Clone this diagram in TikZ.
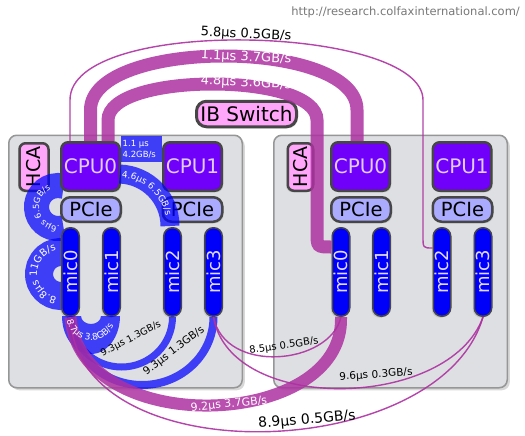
\documentclass[tikz,border=0pt]{standalone}
\usepackage{fontspec}
\setmainfont{DejaVu Sans}
\usetikzlibrary{decorations.text,shadows}
\definecolor{boxgray}{RGB}{221,223,226}
\definecolor{boxedge}{RGB}{150,150,150}
\definecolor{nodeedge}{RGB}{70,70,70}
\definecolor{hcapink}{RGB}{255,165,250}
\definecolor{cpupurple}{RGB}{112,0,250}
\definecolor{cputext}{RGB}{222,205,255}
\definecolor{pcieblue}{RGB}{170,170,255}
\definecolor{micblue}{RGB}{0,0,250}
\definecolor{mictext}{RGB}{225,220,255}
\definecolor{linkpurple}{RGB}{173,49,161}
\definecolor{urlgray}{RGB}{120,120,120}
\tikzset{
 fsz/.style={font=\fontsize{#1}{#1}\selectfont},
 lbl/.style={inner sep=0pt, fsz=#1},
 chassis/.style={draw=boxedge, line width=1.5pt, fill=boxgray, rounded corners=8pt, inner sep=0pt,
   drop shadow={shadow xshift=2.5pt, shadow yshift=-2.5pt, opacity=0.3}},
 unit/.style={draw=nodeedge, line width=2.5pt, inner sep=0pt,
   drop shadow={shadow xshift=1.5pt, shadow yshift=-1.5pt, opacity=0.25}},
 runit/.style={draw=nodeedge, line width=2.5pt, inner sep=0pt, rotate=90,
   drop shadow={shadow xshift=-1.5pt, shadow yshift=-1.5pt, opacity=0.25}},
 hcabox/.style={runit, fill=hcapink, rounded corners=6pt, minimum width=47.5pt, minimum height=#1, fsz=19},
 cpubox/.style={unit, fill=cpupurple, text=cputext, rounded corners=7pt, minimum width=58.5pt, minimum height=48.5pt, fsz=20},
 pciebox/.style={unit, fill=pcieblue, rounded corners=9pt, minimum width=59.5pt, minimum height=24.5pt, fsz=19.5},
 micbox/.style={runit, line width=1.5pt, fill=micblue, text=mictext, rounded corners=8.5pt, minimum width=88.5pt, minimum height=17.5pt, fsz=18},
 bluelink/.style={draw=blue, draw opacity=0.72},
 bluefill/.style={fill=blue, fill opacity=0.72},
 plink/.style={draw=linkpurple, draw opacity=0.85},
 thinlink/.style={draw=linkpurple, draw opacity=0.9, line width=1.4pt},
}
\begin{document}
\begin{tikzpicture}[x=1pt,y=1pt]
\useasboundingbox (0,0) rectangle (525,-436);
\fill[white] (0,0) rectangle (525,-436);

\node[anchor=east, text=urlgray, lbl=11.5] (url) at (520,-12) {http://research.colfaxinternational.com/};

% chassis
\node[chassis, minimum width=233.5pt, minimum height=252.5pt] (nodeL) at (125.5,-261.5) {};
\node[chassis, minimum width=233.5pt, minimum height=252.5pt] (nodeR) at (390.5,-261.5) {};

% HCAs
\node[hcabox=29pt] (hcaL) at (34,-167) {HCA};
\node[hcabox=25.5pt] (hcaR) at (300.5,-167) {HCA};

% left rings (behind CPU/PCIe/mic)
\draw[bluelink, line width=25pt] (58,-207) ++(-75:21.5) arc[start angle=-75, end angle=-285, radius=21.5];
\path[decorate, decoration={text along path, text color=white,
  text={|\fontsize{8.5}{8.5}\selectfont|.6µs 6.5GB/s}}]
  (58,-207) ++(-85:19) arc[start angle=-85, end angle=-290, radius=19];
\draw[bluelink, line width=28pt] (61,-274) ++(-80:22) arc[start angle=-80, end angle=-280, radius=22];
\path[decorate, decoration={text along path, text color=white,
  text={|\fontsize{10}{10}\selectfont|8.8µs 11GB/s}}]
  (61,-274) ++(-100:24) arc[start angle=-100, end angle=-280, radius=24];

% CPUs, PCIe, mics
\node[cpubox] (cpu0L) at (90.5,-166.5) {CPU0};
\node[cpubox] (cpu1L) at (192.5,-166.5) {CPU1};
\node[cpubox] (cpu0R) at (360.5,-166.5) {CPU0};
\node[cpubox] (cpu1R) at (462,-166.5) {CPU1};
\node[pciebox] (pcieL0) at (91,-209.5) {PCIe};
\node[pciebox] (pcieL1) at (192.5,-209.5) {PCIe};
\node[pciebox] (pcieR0) at (361,-209.5) {PCIe};
\node[pciebox] (pcieR1) at (462.5,-209.5) {PCIe};
\node[micbox] (mic0L) at (70.5,-272) {mic0};
\node[micbox] (mic1L) at (111.5,-272) {mic1};
\node[micbox] (mic2L) at (172.5,-272) {mic2};
\node[micbox] (mic3L) at (213.5,-272) {mic3};
\node[micbox] (mic0R) at (341,-272) {mic0};
\node[micbox] (mic1R) at (381.5,-272) {mic1};
\node[micbox] (mic2R) at (442,-272) {mic2};
\node[micbox] (mic3R) at (483,-272) {mic3};
\node[unit, line width=3pt, fill=hcapink, rounded corners=10pt, minimum width=100pt, minimum height=25.5pt, fsz=20] (ib) at (246.5,-114) {IB Switch};

% blue intra-node links
\path[bluefill] (cpu0L.east |- 0,-136) rectangle (cpu1L.west |- 0,-162);
\node[anchor=west, inner sep=0pt, text=white, align=left, font=\fontsize{8.5}{10.5}\selectfont] (qpi) at (122.5,-149.5) {1.1 µs\\4.2GB/s};

\draw[bluelink, line width=19pt] (118,-226) ++(88:52) arc[start angle=88, end angle=0, radius=52];
\path[decorate, decoration={text along path, text color=white,
  text={|\fontsize{9}{9}\selectfont|4.6µs 6.5GB/s}, text align={left indent=2pt}}]
  (118,-226) ++(88:48.7) arc[start angle=88, end angle=0, radius=48.7];

\fill[bluefill] (62,-316) arc[start angle=180, end angle=360, x radius=29, y radius=38]
  -- (101,-316) arc[start angle=0, end angle=-180, x radius=10, y radius=8] -- cycle;

\draw[bluelink, line width=7pt] (mic0L.west) arc[start angle=180, end angle=360, x radius=51, y radius=50];
\draw[bluelink, line width=8pt] (mic0L.west) arc[start angle=180, end angle=360, x radius=71.5, y radius=68];
\node[lbl=9.5, rotate=27] (l93a) at (131,-339) {9.3µs 1.3GB/s};
\node[lbl=10.5, rotate=37] (l93b) at (174,-351) {9.3µs 1.3GB/s};

% purple inter-node links (top)
\draw[thinlink] (70,0 |- cpu0L.north) -- (70,-100) .. controls (70,-15) and (423,-25) .. (423,-100)
  -- (423,-236) .. controls (423,-248) .. (mic2R.north |- 0,-248);
\draw[plink, line width=13pt] (cpu0L.north) -- (90.5,-110) .. controls (90.5,-38) and (357,-38) .. (357,-110)
  -- (357,0 |- cpu0R.north);
\draw[plink, line width=13pt] (108,0 |- cpu0L.north) -- (108,-120) .. controls (108,-72) and (317,-72) .. (317,-120)
  -- (317,-232) .. controls (317,-247) .. (mic0R.north |- 0,-247);
\node[lbl=13, rotate=-3] (l58) at (246,-34.5) {5.8µs 0.5GB/s};
\node[lbl=13, rotate=-3, text=white] (l11) at (246,-57.5) {1.1µs 3.7GB/s};
\node[lbl=13, rotate=-3, text=white] (l48) at (246,-83) {4.8µs 3.6GB/s};

% purple inter-node links (bottom)
\draw[plink, line width=12pt] (mic0L.west) .. controls (80,-440) and (345,-430) .. (mic0R.west);
\draw[thinlink] (mic0L.west) .. controls (75,-475) and (440,-465) .. (mic3R.west);
\draw[thinlink] (mic3L.west) .. controls (225,-375) and (330,-365) .. (mic0R.west);
\draw[thinlink] (mic3L.west) .. controls (230,-415) and (450,-410) .. (mic3R.west);
\node[lbl=11, rotate=6, text=white] (l92) at (229,-404.5) {9.2µs 3.7GB/s};
\node[lbl=14, rotate=5] (l89) at (307,-420) {8.9µs 0.5GB/s};
\node[lbl=10, rotate=8] (l85) at (284,-346) {8.5µs 0.5GB/s};
\node[lbl=10.5, rotate=4] (l96) at (376,-375) {9.6µs 0.3GB/s};

% label of the mic0-mic1 loop, on top of everything
\path[decorate, decoration={text along path, text color=white,
  text={|\fontsize{9}{9}\selectfont|8.7µs 3.8GB/s}}]
  (91,-316) ++(190:24.5) arc[start angle=190, end angle=352, radius=24.5];
\end{tikzpicture}
\end{document}
